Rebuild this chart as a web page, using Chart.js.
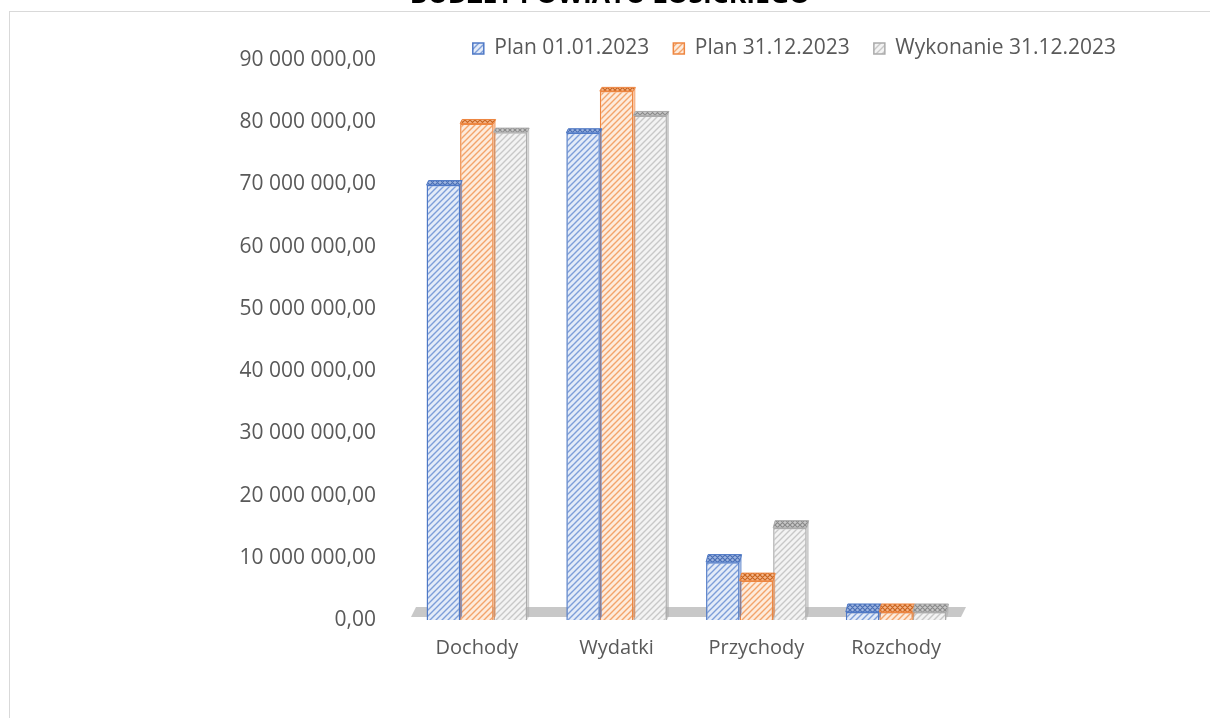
<!DOCTYPE html>
<html><head><meta charset="utf-8">
<script src="https://cdn.jsdelivr.net/npm/chart.js@4.4.0/dist/chart.umd.min.js"></script>
<style>
html,body{margin:0;padding:0;background:#fff;overflow:hidden;width:1210px;height:718px;}
#frame{position:absolute;left:9px;top:11px;width:1400px;height:900px;border:1px solid #d9d9d9;box-sizing:border-box;}
#wrap{position:absolute;left:0;top:0;width:1210px;height:718px;}
</style></head><body>
<div id="frame"></div>
<div id="wrap"><canvas id="c" width="1210" height="718"></canvas></div>
<script>
const chartTitle = 'BUDŻET POWIATU ŁOSICKIEGO';
const categories = ['Dochody', 'Wydatki', 'Przychody', 'Rozchody'];
const seriesNames = ['Plan 01.01.2023', 'Plan 31.12.2023', 'Wykonanie 31.12.2023'];
const planStart = [69900000, 78300000, 9300000, 1300000];
const planEnd = [79800000, 85000000, 6300000, 1300000];
const execution = [78400000, 81100000, 14800000, 1300000];
const yMax = 90000000;
const yStep = 10000000;

function makePattern(bg, stripe, lw, size, cross) {
  const c = document.createElement('canvas');
  c.width = size; c.height = size;
  const x = c.getContext('2d');
  x.fillStyle = bg; x.fillRect(0, 0, size, size);
  x.strokeStyle = stripe; x.lineWidth = lw;
  x.beginPath();
  x.moveTo(-1, size + 1); x.lineTo(size + 1, -1);
  x.moveTo(-1, 1); x.lineTo(1, -1);
  x.moveTo(size - 1, size + 1); x.lineTo(size + 1, size - 1);
  if (cross) {
    x.moveTo(-1, -1); x.lineTo(size + 1, size + 1);
  }
  x.stroke();
  return x.createPattern(c, 'repeat');
}

const styles = [
  {bg: '#e3ebf8', st: '#7d9ed9', border: '#4f79c6', topBg: '#9fb6e0', topSt: '#4a6fb5'},
  {bg: '#fdebdc', st: '#f3a46b', border: '#ee8640', topBg: '#f4b58a', topSt: '#c9651f'},
  {bg: '#f3f3f3', st: '#c8c8c8', border: '#ababab', topBg: '#c8c8c8', topSt: '#8a8a8a'}
];
const fronts = styles.map(s => makePattern(s.bg, s.st, 1.4, 6, false));
const tops = styles.map(s => makePattern(s.topBg, s.topSt, 1.2, 5, true));

function fmt(v) {
  return Math.round(v).toString().replace(/\B(?=(\d{3})+(?!\d))/g, ' ') + ',00';
}

Chart.defaults.font.family = "'Open Sans', sans-serif";
Chart.defaults.color = '#595959';

const floorPlugin = {
  id: 'floor',
  beforeDatasetsDraw(chart) {
    const {ctx, chartArea} = chart;
    const y0 = chart.scales.y.getPixelForValue(0);
    ctx.save();
    ctx.fillStyle = '#c8c8c8';
    ctx.beginPath();
    ctx.moveTo(chartArea.left + 4, y0 - 3);
    ctx.lineTo(chartArea.right - 5, y0 - 3);
    ctx.lineTo(chartArea.right, y0 - 13);
    ctx.lineTo(chartArea.left + 9, y0 - 13);
    ctx.closePath();
    ctx.fill();
    ctx.restore();
  }
};

const depthPlugin = {
  id: 'depth',
  afterDatasetsDraw(chart) {
    const ctx = chart.ctx;
    chart.data.datasets.forEach((ds, i) => {
      const meta = chart.getDatasetMeta(i);
      meta.data.forEach(bar => {
        const {x, y, base, width} = bar.getProps(['x', 'y', 'base', 'width'], true);
        const l = x - width / 2, r = x + width / 2;
        const dy = 3 + 5 * (y / 620);
        const dx = 2;
        ctx.save();
        ctx.fillStyle = tops[i];
        ctx.strokeStyle = styles[i].border;
        ctx.lineWidth = 1;
        ctx.beginPath();
        ctx.moveTo(l, y);
        ctx.lineTo(r, y);
        ctx.lineTo(r + dx, y - dy);
        ctx.lineTo(l + dx, y - dy);
        ctx.closePath();
        ctx.fill();
        ctx.stroke();
        ctx.beginPath();
        ctx.moveTo(r, y);
        ctx.lineTo(r + dx, y - dy);
        ctx.lineTo(r + dx, base - dy);
        ctx.lineTo(r, base);
        ctx.closePath();
        ctx.fillStyle = styles[i].border;
        ctx.globalAlpha = 0.6;
        ctx.fill();
        ctx.restore();
      });
    });
  }
};

const titlePlugin = {
  id: 'topTitle',
  afterDraw(chart) {
    const ctx = chart.ctx;
    ctx.save();
    ctx.font = "bold 26.5px 'Open Sans', sans-serif";
    ctx.fillStyle = '#000';
    ctx.textAlign = 'center';
    ctx.textBaseline = 'alphabetic';
    ctx.fillText(chartTitle, 610, 3);
    ctx.restore();
  }
};

const legendFitPlugin = {
  id: 'legendFit',
  beforeLayout(chart) {
    const lg = chart.legend;
    if (lg && !lg._patched) {
      const f = lg.fit;
      lg.fit = function () { f.call(this); this.height = 46; };
      lg._patched = true;
    }
  }
};

const datasets = [planStart, planEnd, execution].map((vals, i) => ({
  label: seriesNames[i],
  data: vals,
  backgroundColor: fronts[i],
  borderColor: styles[i].border,
  borderWidth: 1.5,
  yAxisID: 'y'
}));

new Chart(document.getElementById('c'), {
  type: 'bar',
  data: {labels: categories, datasets},
  plugins: [legendFitPlugin, floorPlugin, depthPlugin, titlePlugin],
  options: {
    responsive: false,
    animation: false,
    devicePixelRatio: 1,
    layout: {padding: {left: 0, right: 70, top: 14, bottom: 0}},
    categoryPercentage: 0.72,
    barPercentage: 1.0,
    plugins: {
      title: {display: false},
      tooltip: {enabled: false},
      legend: {
        position: 'top',
        align: 'end',
        labels: {
          boxWidth: 11, boxHeight: 11, padding: 24,
          font: {size: 21}, color: '#595959'
        }
      }
    },
    scales: {
      x: {
        grid: {display: false},
        border: {display: false},
        ticks: {font: {size: 20}, color: '#595959', padding: 8},
        afterFit(s) { s.height = 98; }
      },
      y: {
        min: 0, max: yMax,
        grid: {display: false, drawTicks: false},
        border: {display: false},
        ticks: {stepSize: yStep, font: {size: 21}, color: '#595959', padding: 31, callback: v => fmt(v)},
        afterFit(s) { s.width = 407; }
      },
      yR: {
        position: 'right',
        display: true,
        grid: {display: false, drawTicks: false},
        border: {display: false},
        ticks: {display: false},
        afterFit(s) { s.width = 174; }
      }
    }
  }
});
</script>
</body></html>
